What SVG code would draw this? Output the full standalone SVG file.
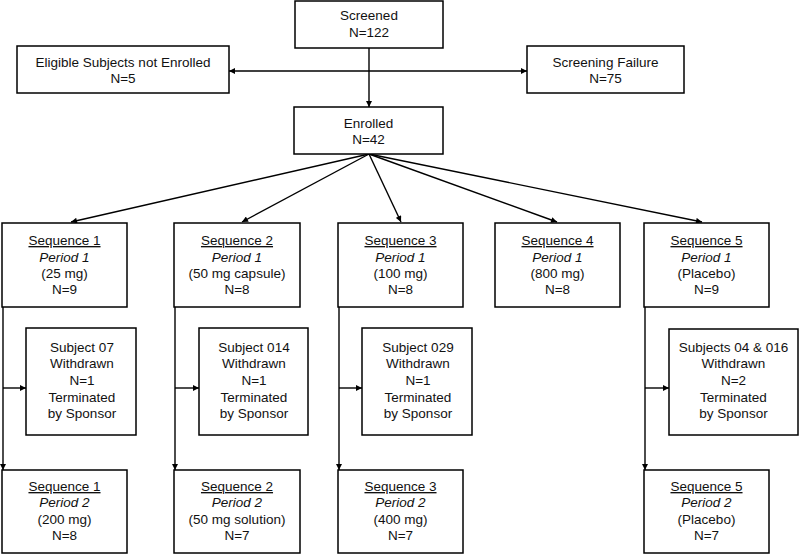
<svg xmlns="http://www.w3.org/2000/svg" width="800" height="555" viewBox="0 0 800 555">
<style>
rect.b{fill:#fff;stroke:#000;stroke-width:1.5}
text{font-family:"Liberation Sans",Arial,sans-serif;font-size:13.5px;fill:#111;text-anchor:middle}
.u{text-decoration:underline}
.i{font-style:italic}
.c{stroke:#000;stroke-width:1.4;fill:none}
</style>
<defs>
<marker id="ah" viewBox="0 0 10 10" refX="10" refY="5" markerWidth="8" markerHeight="6" markerUnits="userSpaceOnUse" orient="auto-start-reverse">
<path d="M0,0 L10,5 L0,10 z" fill="#000"/>
</marker>
</defs>
<g id="connectors">
<line class="c" x1="369" y1="48" x2="369" y2="107" marker-end="url(#ah)"/>
<line class="c" x1="229" y1="71" x2="527" y2="71" marker-start="url(#ah)" marker-end="url(#ah)"/>
<line class="c" x1="369" y1="154" x2="71" y2="222" marker-end="url(#ah)"/>
<line class="c" x1="369" y1="154" x2="242" y2="222" marker-end="url(#ah)"/>
<line class="c" x1="369" y1="154" x2="401" y2="222" marker-end="url(#ah)"/>
<line class="c" x1="369" y1="154" x2="557" y2="222" marker-end="url(#ah)"/>
<line class="c" x1="369" y1="154" x2="702" y2="222" marker-end="url(#ah)"/>
<line class="c" x1="3" y1="307" x2="3" y2="470" marker-end="url(#ah)"/>
<line class="c" x1="3" y1="388" x2="26" y2="388" marker-end="url(#ah)"/>
<line class="c" x1="175" y1="307" x2="175" y2="470" marker-end="url(#ah)"/>
<line class="c" x1="175" y1="388" x2="199" y2="388" marker-end="url(#ah)"/>
<line class="c" x1="339" y1="307" x2="339" y2="470" marker-end="url(#ah)"/>
<line class="c" x1="339" y1="388" x2="362" y2="388" marker-end="url(#ah)"/>
<line class="c" x1="645" y1="307" x2="645" y2="470" marker-end="url(#ah)"/>
<line class="c" x1="645" y1="388" x2="669" y2="388" marker-end="url(#ah)"/>
</g>
<g id="screened"><rect class="b" x="295" y="1" width="148" height="47"/><text x="369" y="20">Screened</text><text x="369" y="37">N=122</text></g>
<g id="eligible"><rect class="b" x="17" y="46" width="212" height="47"/><text x="123" y="67">Eligible Subjects not Enrolled</text><text x="123" y="83">N=5</text></g>
<g id="failure"><rect class="b" x="527" y="46" width="157" height="47"/><text x="605.5" y="67">Screening Failure</text><text x="605.5" y="83">N=75</text></g>
<g id="enrolled"><rect class="b" x="294" y="107" width="149" height="47"/><text x="368.5" y="128">Enrolled</text><text x="368.5" y="144">N=42</text></g>
<g id="seq1p1"><rect class="b" x="2" y="223" width="125" height="84"/><text x="64.5" y="245" class="u">Sequence 1</text><text x="64.5" y="262" class="i">Period 1</text><text x="64.5" y="278">(25 mg)</text><text x="64.5" y="294">N=9</text></g>
<g id="seq2p1"><rect class="b" x="174" y="223" width="126" height="84"/><text x="237" y="245" class="u">Sequence 2</text><text x="237" y="262" class="i">Period 1</text><text x="237" y="278">(50 mg capsule)</text><text x="237" y="294">N=8</text></g>
<g id="seq3p1"><rect class="b" x="338" y="223" width="125" height="84"/><text x="400.5" y="245" class="u">Sequence 3</text><text x="400.5" y="262" class="i">Period 1</text><text x="400.5" y="278">(100 mg)</text><text x="400.5" y="294">N=8</text></g>
<g id="seq4p1"><rect class="b" x="495" y="223" width="125" height="84"/><text x="557.5" y="245" class="u">Sequence 4</text><text x="557.5" y="262" class="i">Period 1</text><text x="557.5" y="278">(800 mg)</text><text x="557.5" y="294">N=8</text></g>
<g id="seq5p1"><rect class="b" x="644" y="223" width="125" height="84"/><text x="706.5" y="245" class="u">Sequence 5</text><text x="706.5" y="262" class="i">Period 1</text><text x="706.5" y="278">(Placebo)</text><text x="706.5" y="294">N=9</text></g>
<g id="subj07"><rect class="b" x="26" y="328" width="110" height="107"/><text x="82" y="352">Subject 07</text><text x="82" y="368">Withdrawn</text><text x="82" y="385">N=1</text><text x="82" y="402">Terminated</text><text x="82" y="418">by Sponsor</text></g>
<g id="subj014"><rect class="b" x="199" y="328" width="109" height="107"/><text x="254" y="352">Subject 014</text><text x="254" y="368">Withdrawn</text><text x="254" y="385">N=1</text><text x="254" y="402">Terminated</text><text x="254" y="418">by Sponsor</text></g>
<g id="subj029"><rect class="b" x="362" y="328" width="110" height="107"/><text x="418" y="352">Subject 029</text><text x="418" y="368">Withdrawn</text><text x="418" y="385">N=1</text><text x="418" y="402">Terminated</text><text x="418" y="418">by Sponsor</text></g>
<g id="subj04016"><rect class="b" x="669" y="329" width="129" height="106"/><text x="733.5" y="352">Subjects 04 &amp; 016</text><text x="733.5" y="368">Withdrawn</text><text x="733.5" y="385">N=2</text><text x="733.5" y="402">Terminated</text><text x="733.5" y="418">by Sponsor</text></g>
<g id="seq1p2"><rect class="b" x="2" y="470" width="125" height="83"/><text x="64.5" y="491" class="u">Sequence 1</text><text x="64.5" y="507" class="i">Period 2</text><text x="64.5" y="524">(200 mg)</text><text x="64.5" y="540">N=8</text></g>
<g id="seq2p2"><rect class="b" x="174" y="470" width="126" height="83"/><text x="237" y="491" class="u">Sequence 2</text><text x="237" y="507" class="i">Period 2</text><text x="237" y="524">(50 mg solution)</text><text x="237" y="540">N=7</text></g>
<g id="seq3p2"><rect class="b" x="338" y="470" width="125" height="83"/><text x="400.5" y="491" class="u">Sequence 3</text><text x="400.5" y="507" class="i">Period 2</text><text x="400.5" y="524">(400 mg)</text><text x="400.5" y="540">N=7</text></g>
<g id="seq5p2"><rect class="b" x="644" y="470" width="125" height="83"/><text x="706.5" y="491" class="u">Sequence 5</text><text x="706.5" y="507" class="i">Period 2</text><text x="706.5" y="524">(Placebo)</text><text x="706.5" y="540">N=7</text></g>
</svg>
